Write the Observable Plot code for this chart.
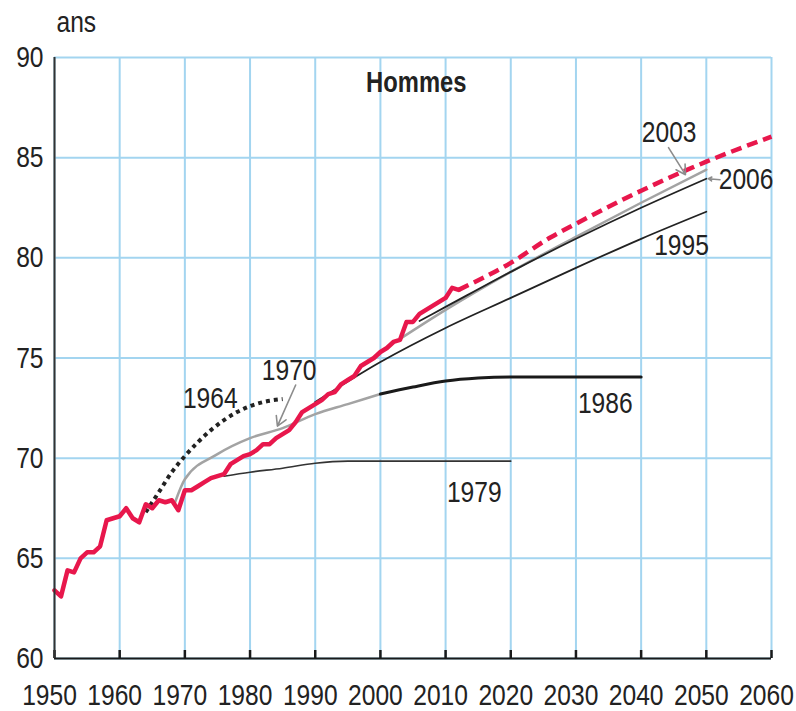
<!DOCTYPE html>
<html>
<head>
<meta charset="utf-8">
<script src="https://cdn.jsdelivr.net/npm/d3@7"></script>
<script src="https://cdn.jsdelivr.net/npm/@observablehq/plot@0.6"></script>
<style>
  html, body { margin: 0; padding: 0; background: #fff; overflow: hidden; }
  #chart svg { display: block; }
</style>
</head>
<body>
<div id="chart"></div>
<script>
// ---- Data ----
const obsYears = [1950,1951,1952,1953,1954,1955,1956,1957,1958,1959,1960,1961,1962,1963,1964,1965,1966,1967,1968,1969,1970,1971,1972,1973,1974,1975,1976,1977,1978,1979,1980,1981,1982,1983,1984,1985,1986,1987,1988,1989,1990,1991,1992,1993,1994,1995,1996,1997,1998,1999,2000,2001,2002,2003,2004,2005,2006,2007,2008,2009,2010,2011,2012];
const obsValues = [63.4,63.1,64.4,64.3,65.0,65.3,65.3,65.6,66.9,67.0,67.1,67.5,67.0,66.8,67.7,67.5,67.9,67.8,67.9,67.4,68.4,68.4,68.6,68.8,69.0,69.1,69.2,69.7,69.9,70.1,70.2,70.4,70.7,70.7,71.0,71.2,71.4,71.8,72.3,72.5,72.7,72.9,73.2,73.3,73.7,73.9,74.1,74.6,74.8,75.0,75.3,75.5,75.8,75.9,76.8,76.8,77.2,77.4,77.6,77.8,78.0,78.5,78.4];

const proj2010Years = [2012,2020,2026,2030,2040,2050,2060];
const proj2010Values = [78.4,79.75,81.0,81.7,83.35,84.8,86.05];

const p1964Years = [1964,1966,1968,1970,1972,1974,1976,1978,1980,1982,1985];
const p1964Values = [67.3,68.3,69.3,70.1,70.8,71.4,71.9,72.3,72.6,72.8,72.95];

const p1970Years = [1968.5,1970,1975,1980,1985,1990,1995,2000];
const p1970Values = [67.8,68.95,70.2,71.0,71.5,72.2,72.7,73.2];

const p1979Years = [1976,1980,1985,1990,1995,2000,2020];
const p1979Values = [69.1,69.3,69.5,69.75,69.85,69.85,69.85];

const p1986Years = [2000,2005,2010,2015,2020,2030,2040];
const p1986Values = [73.2,73.55,73.85,74.0,74.05,74.05,74.05];

const p1995Years = [1990,2000,2010,2020,2030,2040,2050];
const p1995Values = [72.8,74.8,76.5,78.0,79.5,80.95,82.3];

const p2003Years = [2003,2010,2020,2030,2040,2050];
const p2003Values = [75.95,77.4,79.3,81.05,82.75,84.4];

const p2006Years = [2006,2010,2020,2030,2040,2050];
const p2006Values = [76.85,77.55,79.3,80.95,82.5,83.95];

const yTicks = [60,65,70,75,80,85,90];
const xTicks = [1950,1960,1970,1980,1990,2000,2010,2020,2030,2040,2050,2060];

// labels (text, x-year, y-value)
const labelTexts = ["1964","1970","1986","1979","1995","2003","2006"];
const labelX = [1973.9,1986.0,2034.5,2014.4,2046.2,2044.3,2056.1];
const labelY = [73.0,74.4,72.75,68.3,80.6,86.25,83.9];

// arrows
const arrowX1 = [1987.0,2044.2,2052.1];
const arrowY1 = [73.65,85.5,83.9];
const arrowX2 = [1984.2,2046.8,2050.3];
const arrowY2 = [71.6,84.15,83.95];

// ---- Build tables ----
const zip = (xs, ys) => xs.map((x, i) => ({x, y: ys[i]}));
const obs = zip(obsYears, obsValues);
const proj = zip(proj2010Years, proj2010Values);
const labels = labelTexts.map((t, i) => ({t, x: labelX[i], y: labelY[i]}));
const arrows = arrowX1.map((x1, i) => ({x1, y1: arrowY1[i], x2: arrowX2[i], y2: arrowY2[i]}));

const FONT = "'Liberation Sans', Arial, sans-serif";
const GRID = "#a3d5f0";
const RED = "#e8174c";
const INK = "#222";

const chart = Plot.plot({
  width: 796,
  height: 711,
  marginLeft: 54,
  marginRight: 25,
  marginTop: 57,
  marginBottom: 53,
  style: {fontFamily: FONT, fontSize: "30px", color: INK, background: "#fff"},
  x: {domain: [1950, 2060]},
  y: {domain: [60, 90]},
  marks: [
    Plot.gridX(xTicks, {stroke: GRID, strokeOpacity: 1, strokeWidth: 2}),
    Plot.gridY(yTicks, {stroke: GRID, strokeOpacity: 1, strokeWidth: 2}),
    Plot.axisY(yTicks, {tickSize: 0, tickPadding: 11, fontSize: 30, fill: INK, label: null}),
    Plot.axisX(xTicks, {tickSize: 0, tickPadding: 25, fontSize: 30, fill: INK, tickFormat: d => String(d), dx: -5, label: null}),
    // projections
    Plot.line(zip(p1964Years, p1964Values), {x: "x", y: "y", curve: "monotone-x", stroke: "#222", strokeWidth: 4, strokeDasharray: "4,4", strokeLinecap: "butt"}),
    Plot.line(zip(p1970Years, p1970Values), {x: "x", y: "y", curve: "monotone-x", stroke: "#a3a3a3", strokeWidth: 2.5}),
    Plot.line(zip(p1979Years, p1979Values), {x: "x", y: "y", curve: "monotone-x", stroke: "#333", strokeWidth: 1.6}),
    Plot.line(zip(p1986Years, p1986Values), {x: "x", y: "y", curve: "monotone-x", stroke: "#1a1a1a", strokeWidth: 3}),
    Plot.line(zip(p1995Years, p1995Values), {x: "x", y: "y", curve: "monotone-x", stroke: "#222", strokeWidth: 1.8}),
    Plot.line(zip(p2003Years, p2003Values), {x: "x", y: "y", curve: "monotone-x", stroke: "#a3a3a3", strokeWidth: 2.5}),
    Plot.line(zip(p2006Years, p2006Values), {x: "x", y: "y", curve: "monotone-x", stroke: "#222", strokeWidth: 1.8}),
    // observed & projection 2010
    Plot.line(proj, {x: "x", y: "y", curve: "monotone-x", stroke: RED, strokeWidth: 4.5, strokeDasharray: "11,6", strokeLinecap: "butt"}),
    Plot.line(obs, {x: "x", y: "y", stroke: RED, strokeWidth: 4.5, strokeLinejoin: "round"}),
    // axes lines and ticks
    Plot.ruleX(xTicks, {y1: 60, y2: 60.4, stroke: "#1a1a1a", strokeWidth: 2.5}),
    Plot.ruleY([60], {stroke: "#1a1a1a", strokeWidth: 2}),
    Plot.ruleX([1950], {stroke: "#333", strokeWidth: 2}),
    // arrows & labels
    Plot.arrow(arrows, {x1: "x1", y1: "y1", x2: "x2", y2: "y2", stroke: "#8c8c8c", strokeWidth: 1.6, headLength: 10}),
    Plot.text(labels, {x: "x", y: "y", text: "t", fontSize: 30, fill: INK}),
    Plot.text(["Hommes"], {x: () => 2005.5, y: () => 88.75, text: d => d, fontSize: 29, fontWeight: "bold", fill: INK}),
    Plot.text(["ans"], {frameAnchor: "top-left", text: d => d, dx: 2, dy: -47, textAnchor: "start", lineAnchor: "top", fontSize: 30, fill: INK})
  ]
});
document.getElementById("chart").append(chart);

// Condense all text horizontally (narrow typeface look), anchored at each text's anchor point
const SX = 0.82;
chart.querySelectorAll("text").forEach(el => {
  const bb = el.getBBox();
  const anchor = getComputedStyle(el).textAnchor;
  const cx = anchor === "end" ? bb.x + bb.width : anchor === "middle" ? bb.x + bb.width / 2 : bb.x;
  const old = el.getAttribute("transform") || "";
  el.setAttribute("transform", `${old} translate(${cx},0) scale(${SX},1) translate(${-cx},0)`.trim());
});
</script>
</body>
</html>
